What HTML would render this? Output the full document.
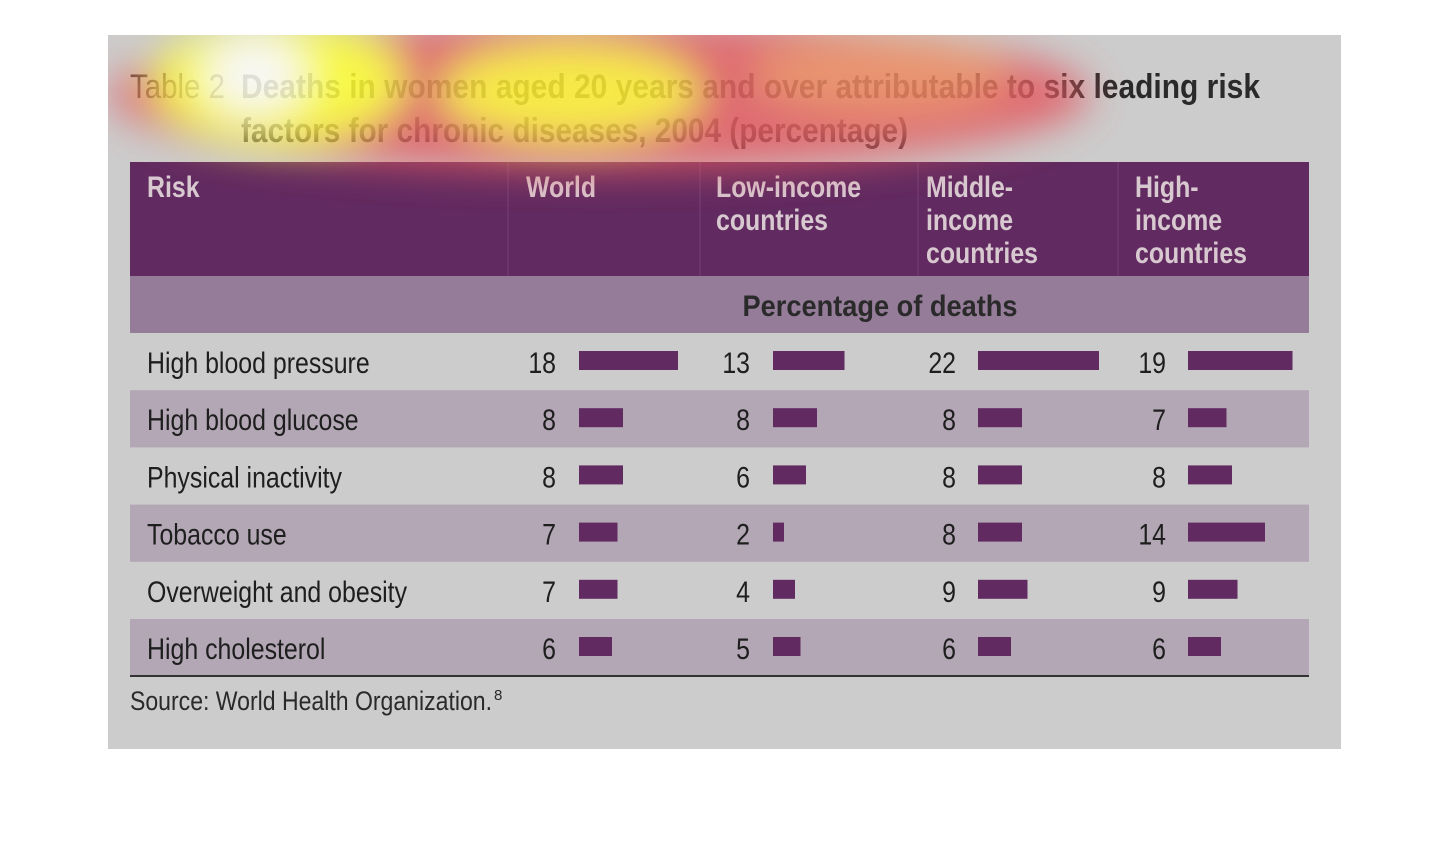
<!DOCTYPE html>
<html><head><meta charset="utf-8"><style>
html,body{margin:0;padding:0;background:#fff;}
svg{display:block;font-family:"Liberation Sans",sans-serif;}
</style></head><body>
<svg id="chart" width="1450" height="844" viewBox="0 0 1450 844">
<defs>
<filter id="blur" x="-50%" y="-50%" width="200%" height="200%"><feGaussianBlur stdDeviation="20"/></filter>
<clipPath id="cardclip"><rect x="108" y="35" width="1233" height="714"/></clipPath>
</defs>
<rect x="108" y="35" width="1233" height="714" fill="#cccccc"/>
<g>
<text x="130" y="98" font-size="34" fill="#3a2a35" textLength="95" lengthAdjust="spacingAndGlyphs">Table 2</text>
<text x="241" y="98" font-size="34" font-weight="bold" fill="#2a2a2a" textLength="1019" lengthAdjust="spacingAndGlyphs">Deaths in women aged 20 years and over attributable to six leading risk</text>
<text x="241" y="142" font-size="34" font-weight="bold" fill="#2a2a2a" textLength="667" lengthAdjust="spacingAndGlyphs">factors for chronic diseases, 2004 (percentage)</text>
</g>
<rect x="130" y="162" width="1179" height="114" fill="#612a60"/>
<g stroke="#6e3a6e" stroke-width="1.5">
<line x1="508" y1="162" x2="508" y2="276"/><line x1="700" y1="162" x2="700" y2="276"/>
<line x1="918" y1="162" x2="918" y2="276"/><line x1="1118" y1="162" x2="1118" y2="276"/>
</g>
<rect x="130" y="276" width="1179" height="57" fill="#957d9a"/>
<g id="rows"></g>
<line x1="130" y1="676" x2="1309" y2="676" stroke="#333" stroke-width="2"/>
<text x="130" y="710" font-size="27" fill="#2a2a2a" textLength="362" lengthAdjust="spacingAndGlyphs">Source: World Health Organization.</text>
<text x="494" y="700" font-size="15" fill="#2a2a2a">8</text>
<g id="hdr" font-weight="bold" font-size="30" fill="#d8c8d0"></g>
<text x="880" y="316" font-size="30" font-weight="bold" fill="#2a2a2a" text-anchor="middle" textLength="275" lengthAdjust="spacingAndGlyphs">Percentage of deaths</text>
<g clip-path="url(#cardclip)">
<g filter="url(#blur)" opacity="0.85">
<ellipse cx="600" cy="95" rx="490" ry="75" fill="#e25a62"/>
<ellipse cx="880" cy="75" rx="130" ry="40" fill="#ee8a60"/>
<ellipse cx="570" cy="92" rx="130" ry="48" fill="#fff030"/>
<ellipse cx="280" cy="82" rx="125" ry="62" fill="#ffff30"/>
<ellipse cx="255" cy="75" rx="50" ry="38" fill="#ffffff"/>
</g>
</g>
</svg>
<script>
var risks=["High blood pressure","High blood glucose","Physical inactivity","Tobacco use","Overweight and obesity","High cholesterol"];
var world=[18,8,8,7,7,6];
var lowIncome=[13,8,6,2,4,5];
var middleIncome=[22,8,8,8,9,6];
var highIncome=[19,7,8,14,9,6];
var columnHeaders=[["Risk"],["World"],["Low-income","countries"],["Middle-","income","countries"],["High-","income","countries"]];
var NS="http://www.w3.org/2000/svg";
var series=[world,lowIncome,middleIncome,highIncome];
var numRight=[556,750,956,1166];
var barStart=[579,773,978,1188];
var unit=5.5;
function xScale(v){return v*unit;}
function rowY(i){return 333+i*57.2;}
var rows=document.getElementById('rows');
function mk(tag,attrs,parent){var e=document.createElementNS(NS,tag);for(var k in attrs){e.setAttribute(k,attrs[k]);}parent.appendChild(e);return e;}
function ctext(parent,x,y,str,size,anchor,fill,weight){
  var g=mk('g',{transform:'translate('+x+','+y+') scale(0.83,1)'},parent);
  var t=mk('text',{x:0,y:0,'font-size':size,fill:fill,'text-anchor':anchor,'font-weight':weight},g);
  t.textContent=str;return t;}
for(var i=0;i<risks.length;i++){
  var y=rowY(i);
  if(i%2==1){var bg=mk('rect',{x:130,y:y,width:1179,height:57.2,fill:'#b3a7b5'},rows);
    
    }
  var lab=ctext(rows,147,y+40,risks[i],30,'start','#1e1e1e','normal');
  
  
  for(var s=0;s<4;s++){
    var v=series[s][i];
    var n=ctext(rows,numRight[s],y+40,String(v),30,'end','#1e1e1e','normal');
    
    
    var b=mk('rect',{x:barStart[s],y:y+18,width:xScale(v),height:19,fill:'#612a60'},rows);
    
    
  }
}
var hdr=document.getElementById('hdr');
var hx=[147,526,716,926,1135];
for(var c=0;c<columnHeaders.length;c++){
  for(var l=0;l<columnHeaders[c].length;l++){
    var t=ctext(hdr,hx[c],197+l*33,columnHeaders[c][l],30,'start','#d8c8d0','bold');
    
    
  }
}
</script>
</body></html>
